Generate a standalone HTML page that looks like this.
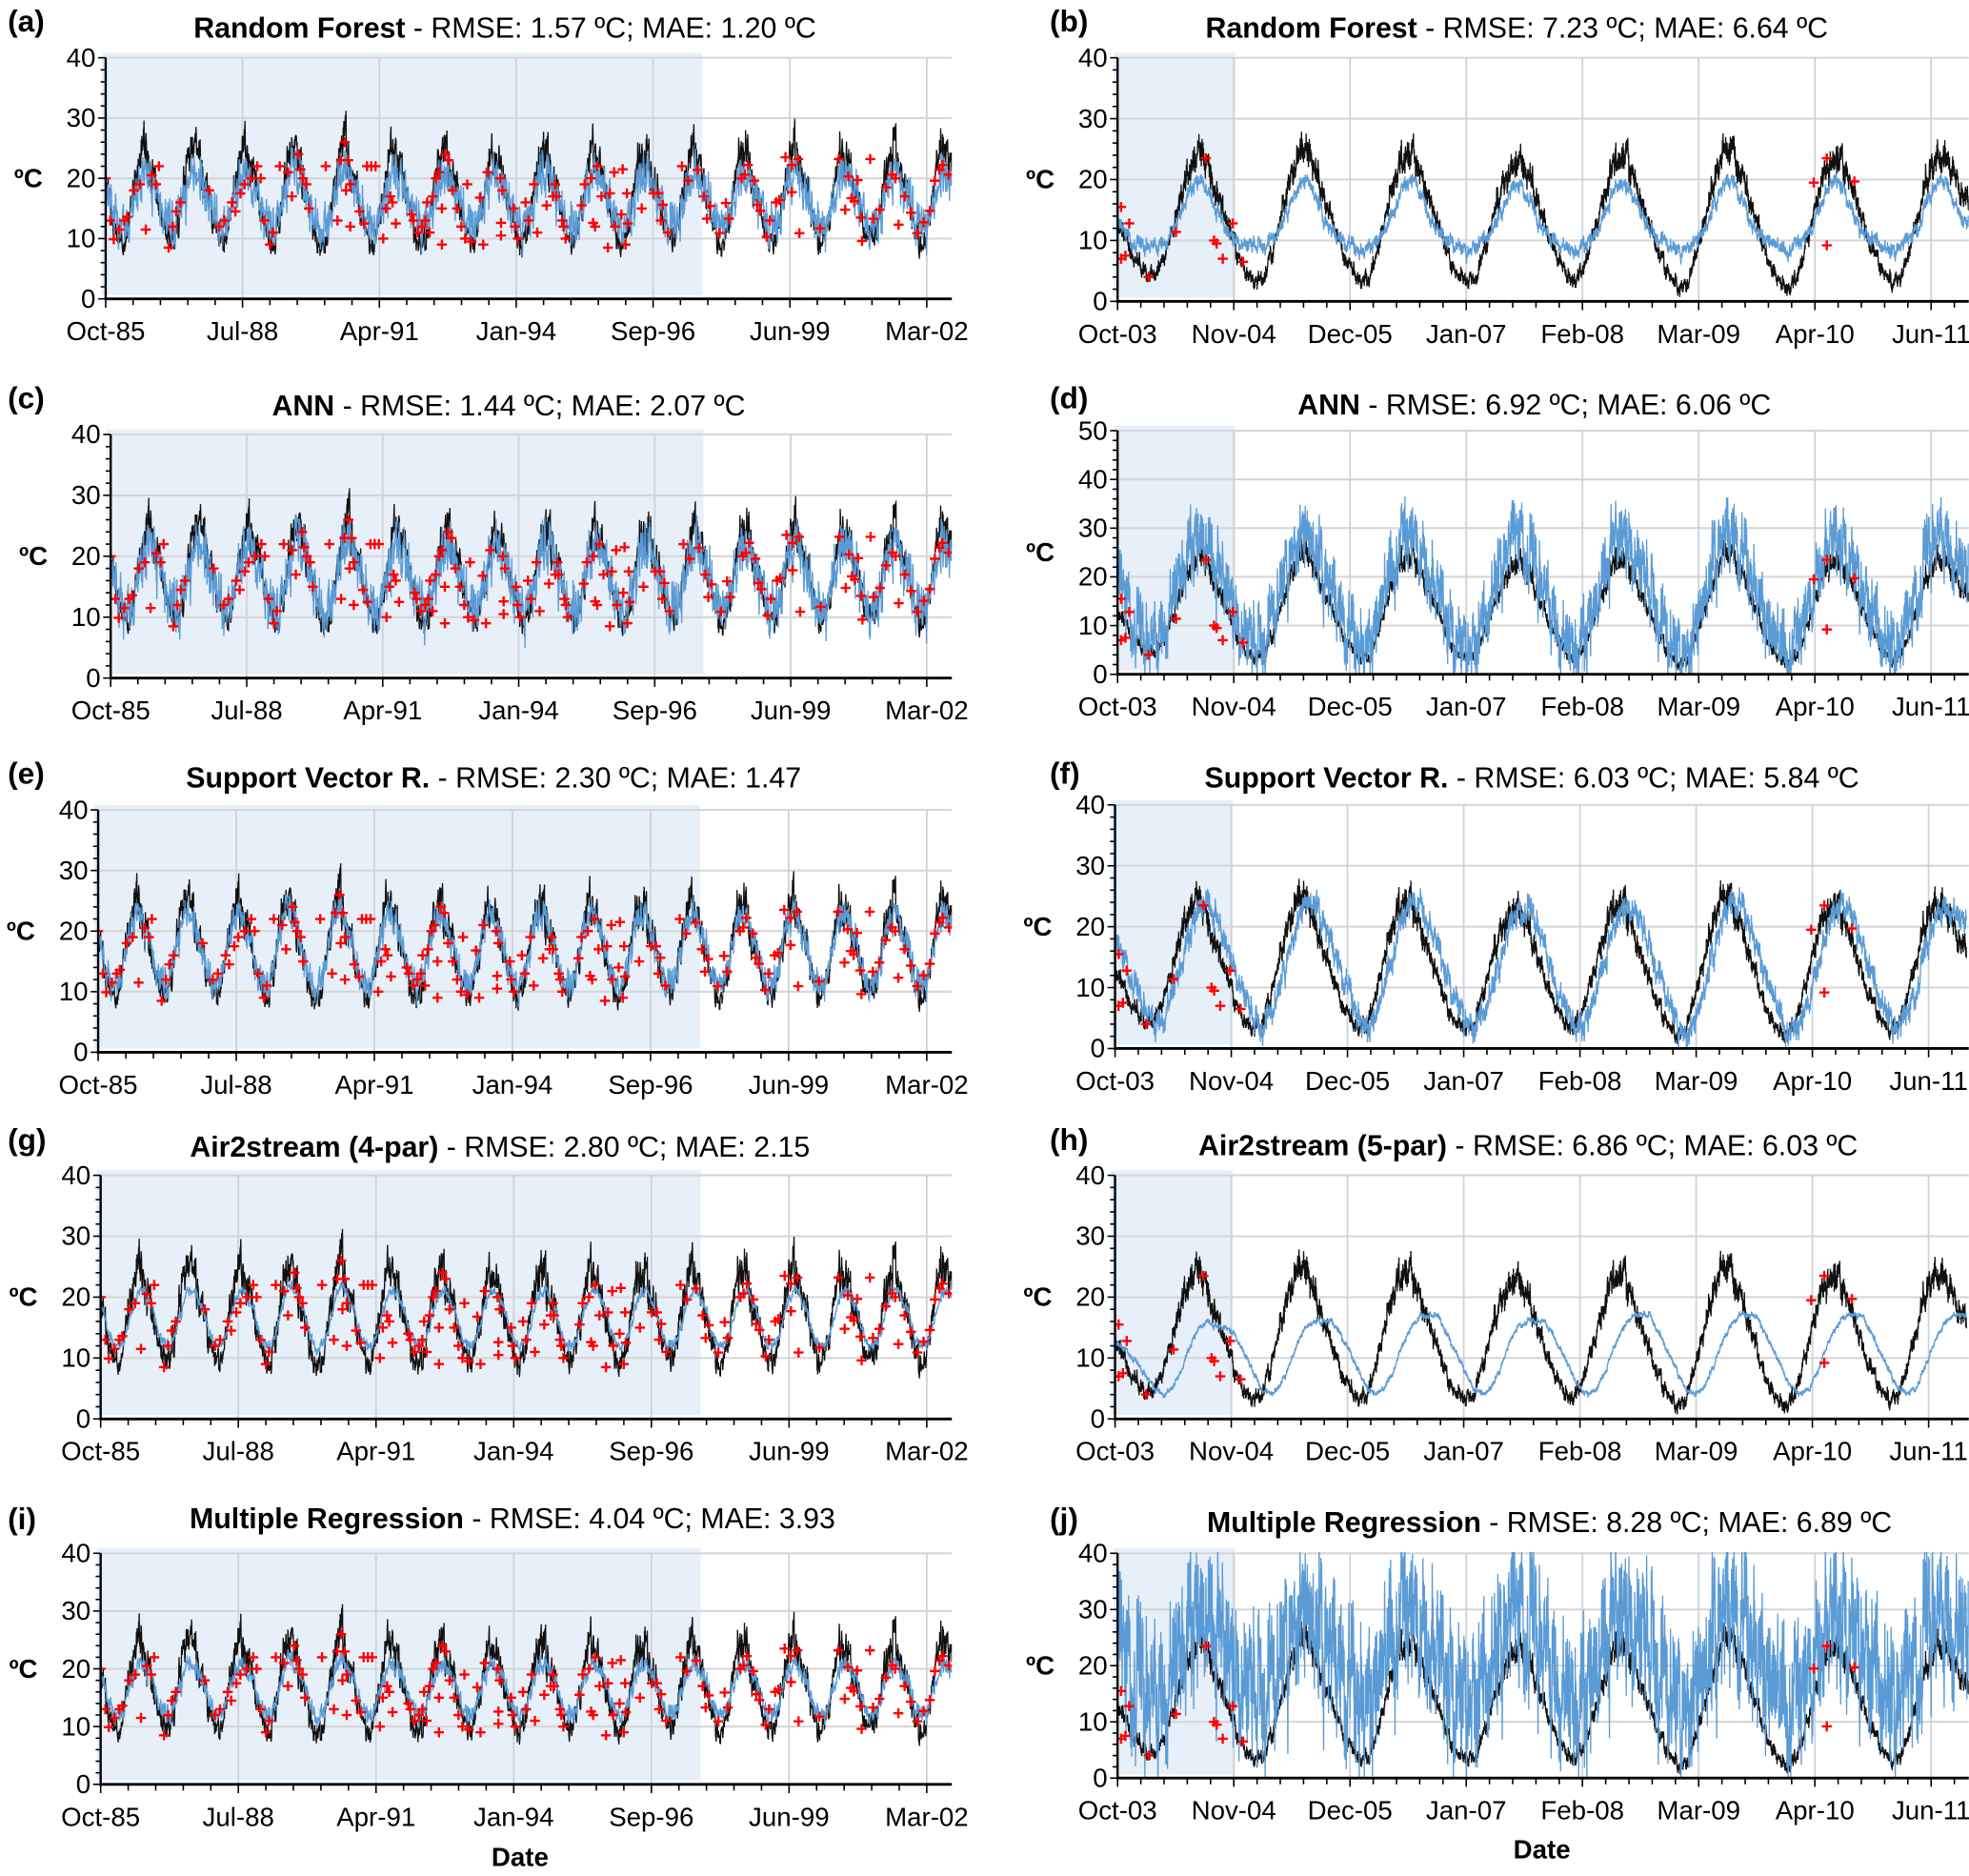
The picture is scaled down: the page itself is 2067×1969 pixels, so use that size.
<!DOCTYPE html>
<html><head><meta charset="utf-8">
<style>
html,body{margin:0;padding:0;background:#fff;}
svg{display:block;font-family:"Liberation Sans",Arial,sans-serif;}
</style></head>
<body>
<svg id="fig" width="2067" height="1969" viewBox="0 0 1568 1494" xmlns="http://www.w3.org/2000/svg"></svg>
<script>
// ---------- DATA ----------
const obsL = [
18,14,11,9,9,12,17,21,24,25,22,19, 17,13,11,10,10,13,18,22,25,26,23,19,
18,14,12,9,10,12,16,21,24,25,23,20, 18,14,11,9,9,12,17,22,25,26,22,19,
17,13,10,8,9,11,16,21,25,27,23,19, 18,14,11,9,9,12,17,21,24,25,22,19,
17,13,10,9,9,12,17,21,24,25,22,19, 18,14,11,10,10,12,16,20,23,24,22,19,
17,13,11,9,9,12,17,21,24,25,22,19, 18,14,11,9,10,12,16,21,24,25,23,19,
17,13,11,9,9,12,17,21,23,24,22,19, 18,14,12,10,10,13,17,21,24,25,22,19,
17,13,11,9,9,12,17,21,24,25,22,18, 17,13,11,9,9,12,16,21,24,25,23,19,
18,14,11,9,10,12,17,21,24,24,22,19, 17,13,11,10,10,13,17,21,24,25,22,19,
18,14,11,9,9,12,17,22,24,25,22,20];
const predA = [
17,15,13,12,12,13,15,18,20,21,20,18, 17,15,13,12,12,14,16,18,21,21,20,18,
17,15,13,12,12,13,15,18,20,21,20,18, 17,15,13,12,12,13,16,19,21,22,20,18,
17,14,13,11,12,13,15,18,21,22,20,18, 17,15,13,12,12,13,15,18,20,21,20,18,
17,15,13,12,12,13,15,18,20,21,20,18, 17,15,13,12,12,13,15,18,20,21,20,18,
17,15,13,12,12,13,15,18,20,21,20,18, 17,15,13,12,12,13,15,18,20,21,20,18,
17,15,13,12,12,13,15,18,20,21,20,18, 17,15,13,12,12,13,15,18,20,21,20,18,
17,15,13,12,12,13,15,18,20,21,20,18, 17,15,13,12,12,13,15,18,20,21,20,18,
17,15,13,12,12,13,15,18,20,21,20,18, 17,15,13,12,12,13,15,18,20,21,20,18,
17,15,13,12,12,13,15,18,20,21,20,18];
const predC = [
17,14,12,11,11,13,16,19,21,22,21,18, 17,14,12,11,11,13,16,19,22,22,21,18,
17,14,12,11,11,13,16,19,21,22,21,18, 17,14,12,11,11,13,16,19,22,23,21,18,
17,14,12,10,11,13,16,19,22,23,21,18, 17,14,12,11,11,13,16,19,21,22,21,18,
17,14,12,11,11,13,16,19,21,22,21,18, 17,14,12,11,11,13,16,19,21,22,21,18,
17,14,12,11,11,13,16,19,21,22,21,18, 17,14,12,11,11,13,16,19,21,22,21,18,
17,14,12,11,11,13,16,19,21,22,21,18, 17,14,12,11,11,13,16,19,21,22,21,18,
17,14,12,11,11,13,16,19,21,22,21,18, 17,14,12,11,11,13,16,19,21,22,21,18,
17,14,12,11,11,13,16,19,21,22,21,18, 17,14,12,11,11,13,16,19,21,22,21,18,
17,14,12,11,11,13,16,19,21,22,21,18];
const predE = [
18,14,12,11,11,13,16,20,22,23,22,19, 18,14,12,11,11,13,17,20,23,23,22,19,
18,14,12,11,11,13,16,20,22,23,22,19, 18,14,12,11,11,13,17,21,23,24,22,19,
17,14,12,10,11,13,16,20,23,24,22,19, 18,14,12,11,11,13,16,20,22,23,22,19,
18,14,12,11,11,13,16,20,22,23,22,19, 18,14,12,11,11,13,16,20,22,23,22,19,
18,14,12,11,11,13,16,20,22,23,22,19, 18,14,12,11,11,13,16,20,22,23,22,19,
18,14,12,11,11,13,16,20,22,23,22,19, 18,14,12,11,11,13,16,20,22,23,22,19,
18,14,12,11,11,13,16,20,22,23,22,19, 18,14,12,11,11,13,16,20,22,23,22,19,
18,14,12,11,11,13,16,20,22,23,22,19, 18,14,12,11,11,13,16,20,22,23,22,19,
18,14,12,11,11,13,16,20,22,23,22,19];
const predG = [
18,15,13,12,12,13,15,18,20,21,21,19, 18,15,13,12,12,13,16,18,21,21,21,19,
18,15,13,12,12,13,15,18,20,21,21,19, 18,15,13,12,12,13,16,19,21,22,21,19,
18,15,13,11,12,13,15,18,21,22,21,19, 18,15,13,12,12,13,15,18,20,21,21,19,
18,15,13,12,12,13,15,18,20,21,21,19, 18,15,13,12,12,13,15,18,20,21,21,19,
18,15,13,12,12,13,15,18,20,21,21,19, 18,15,13,12,12,13,15,18,20,21,21,19,
18,15,13,12,12,13,15,18,20,21,21,19, 18,15,13,12,12,13,15,18,20,21,21,19,
18,15,13,12,12,13,15,18,20,21,21,19, 18,15,13,12,12,13,15,18,20,21,21,19,
18,15,13,12,12,13,15,18,20,21,21,19, 18,15,13,12,12,13,15,18,20,21,21,19,
18,15,13,12,12,13,15,18,20,21,21,19];
const predI = [
18,15,13,12,12,13,16,18,20,21,20,19, 18,15,13,12,12,13,16,18,21,21,20,19,
18,15,13,12,12,13,16,18,20,21,20,19, 18,15,13,12,12,13,16,19,21,22,20,19,
18,15,13,11,12,13,16,18,21,22,20,19, 18,15,13,12,12,13,16,18,20,21,20,19,
18,15,13,12,12,13,16,18,20,21,20,19, 18,15,13,12,12,13,16,18,20,21,20,19,
18,15,13,12,12,13,16,18,20,21,20,19, 18,15,13,12,12,13,16,18,20,21,20,19,
18,15,13,12,12,13,16,18,20,21,20,19, 18,15,13,12,12,13,16,18,20,21,20,19,
18,15,13,12,12,13,16,18,20,21,20,19, 18,15,13,12,12,13,16,18,20,21,20,19,
18,15,13,12,12,13,16,18,20,21,20,19, 18,15,13,12,12,13,16,18,20,21,20,19,
18,15,13,12,12,13,16,18,20,21,20,19];
const obsR = [
12,8,6,4,5,8,13,19,23,24,21,16, 13,8,5,3,4,8,14,20,24,25,21,16,
12,8,5,3,4,9,15,21,24,24,20,15, 12,7,4,3,4,8,14,19,22,23,21,16,
12,8,5,3,5,9,14,20,23,24,20,15, 11,7,4,2,3,8,14,20,24,25,21,16,
12,7,4,2,3,7,13,19,22,24,21,16, 12,8,5,3,4,8,14,20,23,24,21,17];
const predB = [
12,10,9,9,9,10,12,16,19,20,17,14, 11,10,9,9,9,10,12,16,19,20,17,13,
11,10,9,8,9,10,12,16,19,20,17,13, 11,10,9,8,9,10,12,15,18,19,17,13,
11,10,9,8,9,10,12,16,19,19,17,13, 11,10,9,8,9,10,12,16,19,20,17,13,
11,10,9,8,9,10,12,16,19,20,17,13, 11,10,9,8,9,10,12,16,19,20,17,13];
const predD = [
17,12,8,6,7,11,17,23,27,28,25,20, 17,11,7,5,6,11,17,24,28,29,25,20,
16,11,7,5,6,11,18,24,28,28,24,19, 16,10,6,5,6,10,17,23,27,28,25,20,
16,11,7,5,7,11,17,24,28,28,24,19, 15,10,6,4,5,10,17,24,28,29,25,20,
16,10,6,4,5,10,16,23,27,28,25,20, 16,11,7,5,6,10,17,24,28,28,25,21];
const predF = [
16,13,9,6,4,5,9,14,19,23,24,21, 17,13,9,5,3,5,9,15,20,24,24,21,
17,13,9,5,3,5,10,16,21,24,24,20, 17,12,8,5,3,5,9,14,19,22,23,21,
17,12,8,5,3,5,10,15,20,23,23,20, 16,12,8,4,2,4,9,15,20,24,24,21,
17,12,8,4,2,4,8,14,19,23,24,21, 17,12,8,5,3,5,9,15,20,23,23,21];
const predH = [
12,11,9,7,5,4,5,8,12,15,16,15, 15,14,11,8,5,4,5,8,12,15,16,16,
16,14,11,8,5,4,5,8,12,15,17,17, 17,14,11,8,5,4,5,8,12,15,16,16,
16,14,11,8,5,4,5,8,12,15,17,17, 17,14,11,8,5,4,5,8,12,15,17,17,
17,14,11,8,5,4,5,8,12,15,17,17, 17,14,11,8,5,4,5,8,12,15,17,17];
const predJ = [
22,18,16,14,14,16,20,25,28,29,27,25, 22,18,15,13,14,16,20,26,29,30,27,24,
22,18,15,13,14,16,21,26,29,29,26,23, 22,17,14,13,14,16,20,25,28,28,27,24,
22,18,15,13,14,17,21,26,28,29,26,23, 21,17,14,12,13,16,20,26,29,30,27,24,
22,17,14,12,13,15,19,25,28,29,27,24, 22,18,15,13,14,16,20,26,28,29,27,25];
const noiseObsL = 5, noiseObsR = 4;
const spikeL = [5, 6, 3.5, 1.2, 2.2];
const spikeR = [2, 11, 3.5, 0.8, 19];
const jitter = [0.31,-0.82,0.94,-0.18,0.55,-0.61,0.12,0.77,-0.93,0.41,-0.27,0.68,-0.49,0.05,0.88,-0.72,0.23,-0.36,0.97,-0.55,0.16,-0.9,0.62,-0.08,0.45,-0.67,0.83,-0.3,0.2,-0.99,0.71,-0.14,0.37,-0.58,0.9,-0.42,0.09,0.6,-0.77,0.28,-0.21];
const mkDayL = [0,34,59,99,136,157,207,250,336,367,389,293,460,491,515,546,756,830,867,923,948,985,1015,1062,1108,1133,1160,1200,1222,1272,1333,1361,1407,1423,1441,1466,1485,1608,1694,1719,1747,1772,1756,1787,1787,1855,1889,1910,1941,1972,2028,2049,2080,2096,2120,2235,2250,2281,2312,2336,2349,2367,2389,2414,2435,2457,2457,2481,2506,2534,2568,2599,2627,2642,2673,2735,2759,2790,2883,2889,2889,2898,2981,2991,3012,3068,3090,3130,3154,3222,3269,3293,3284,3336,3346,3361,3478,3500,3546,3593,3562,3577,3623,3670,3685,3716,3778,3722,3769,3799,3809,3815,3917,4003,4040,4056,4071,4108,4211,4257,4326,4372,4394,4417,4486,4532,4555,4647,4670,4693,4739,4761,4784,4830,4853,4899,4922,4968,5014,5060,5014,5069,5220,5358,5404,5427,5450,5472,5495,5518,5527,5587,5610,5656,5702,5748,5771,5794,5839,5885,5931,5977,6022,6059,6092,6115,6161];
const mkValL = [20,13,9.9,11.5,13,13.6,18,19,20.5,19,22,11.5,8.5,12,14.5,16,18,12,13,16,14.5,17.5,19,20,22,20,13,9,11,22,21,17,24,21.5,20,19,15,22,13,23,26,23,18,19,12,14.5,12.5,22,22,22,10,15,17,16,12.5,14,13,11,12,13,16,11,17,20,21,15,9,24,23,18,15,12,10,19,9.5,16.8,9,21,20,12.6,10.5,18,15,12,10,16,13,19,11,15.5,17,17,19,13,12,10,15.5,19,20,22,12.6,12,17,8.5,17.5,21,21.5,12,14,9,17.5,12.5,15,17.5,17.5,13,15.6,11,22,19.6,21.4,17,13.3,15.4,10.9,15.9,13.3,20,20.6,22.2,19.6,15.6,14.6,10.3,13,16,16.4,23.5,22.2,23.2,17.7,10.9,11.7,23.2,14.8,20.3,16.7,16.2,19.7,13.5,9.6,23.2,13.3,14.8,18.5,20.6,20,12.3,17,14.3,10.9,12.7,14.6,19.6,21.4,22.2,20.6];
const mkDayR = [12,12,27,40,107,201,304,332,341,362,396,432,2396,2441,2441,2536];
const mkValR = [15.5,7,7.5,12.8,4,11.4,23.5,10,9.5,7,12.8,6.5,19.5,23.5,9.2,19.7];
const tickDaysL = [0,1000,2000,3000,4000,5000,6000];
const tickLabelsL = ["Oct-85","Jul-88","Apr-91","Jan-94","Sep-96","Jun-99","Mar-02"];
const tickDaysR = [0,400,800,1200,1600,2000,2400,2800];
const tickLabelsR = ["Oct-03","Nov-04","Dec-05","Jan-07","Feb-08","Mar-09","Apr-10","Jun-11"];

// ---------- LAYOUT ----------
const panels = [
 {id:'a',side:'L',x0:84,x1:758,yT:46,yB:238,yMax:40,pred:predA,sp:spikeL[0],lx:6,ly:25,tx:402,ty:30,tb:'Random Forest',tn:' - RMSE: 1.57 ºC; MAE: 1.20 ºC'},
 {id:'c',side:'L',x0:88,x1:758,yT:346,yB:540,yMax:40,pred:predC,sp:spikeL[1],lx:6,ly:325,tx:405,ty:331,tb:'ANN',tn:' - RMSE: 1.44 ºC; MAE: 2.07 ºC'},
 {id:'e',side:'L',x0:78,x1:758,yT:645,yB:838,yMax:40,pred:predE,sp:spikeL[2],lx:6,ly:624,tx:393,ty:627,tb:'Support Vector R.',tn:' - RMSE: 2.30 ºC; MAE: 1.47'},
 {id:'g',side:'L',x0:80,x1:758,yT:936,yB:1130,yMax:40,pred:predG,sp:spikeL[3],lx:6,ly:916,tx:398,ty:921,tb:'Air2stream (4-par)',tn:' - RMSE: 2.80 ºC; MAE: 2.15'},
 {id:'i',side:'L',x0:80,x1:758,yT:1237,yB:1421,yMax:40,pred:predI,sp:spikeL[4],lx:6,ly:1218,tx:408,ty:1217,tb:'Multiple Regression',tn:' - RMSE: 4.04 ºC; MAE: 3.93'},
 {id:'b',side:'R',x0:890,x1:1568,yT:46,yB:240,yMax:40,pred:predB,sp:spikeR[0],lx:836,ly:25,tx:1208,ty:30,tb:'Random Forest',tn:' - RMSE: 7.23 ºC; MAE: 6.64 ºC'},
 {id:'d',side:'R',x0:890,x1:1568,yT:343,yB:537,yMax:50,pred:predD,sp:spikeR[1],lx:836,ly:325,tx:1222,ty:330,tb:'ANN',tn:' - RMSE: 6.92 ºC; MAE: 6.06 ºC'},
 {id:'f',side:'R',x0:888,x1:1568,yT:641,yB:835,yMax:40,pred:predF,sp:spikeR[2],lx:836,ly:624,tx:1220,ty:627,tb:'Support Vector R.',tn:' - RMSE: 6.03 ºC; MAE: 5.84 ºC'},
 {id:'h',side:'R',x0:888,x1:1568,yT:936,yB:1130,yMax:40,pred:predH,sp:spikeR[3],lx:836,ly:916,tx:1217,ty:920,tb:'Air2stream (5-par)',tn:' - RMSE: 6.86 ºC; MAE: 6.03 ºC'},
 {id:'j',side:'R',x0:890,x1:1568,yT:1237,yB:1416,yMax:40,pred:predJ,sp:spikeR[4],lx:836,ly:1218,tx:1234,ty:1220,tb:'Multiple Regression',tn:' - RMSE: 8.28 ºC; MAE: 6.89 ºC'}
];
const NS='http://www.w3.org/2000/svg';
const svg=document.getElementById('fig');
function mk(tag,attrs,parent){const e=document.createElementNS(NS,tag);for(const k in attrs)e.setAttribute(k,attrs[k]);(parent||svg).appendChild(e);return e;}
function monthly(arr,d){const m=(d-15)/30.44;const i=Math.max(0,Math.min(arr.length-1,Math.floor(m)));const j=Math.min(arr.length-1,i+1);const f=Math.max(0,Math.min(1,m-i));return arr[i]*(1-f)+arr[j]*f;}
function jit(d,o){const n=jitter.length;
  return jitter[(d+o)%n]*0.4+jitter[(Math.floor(d/3)*5+o)%n]*0.35+jitter[(Math.floor(d/11)*3+o*2)%n]*0.35;}

panels.forEach(p=>{
  const L=p.side==='L';
  const dMax=L?6183:2930;
  const x1Scale=L?(738-p.x0)/6000:(1538-890)/2800;
  const sx=d=>p.x0+d*x1Scale;
  const sy=v=>p.yB-(v/p.yMax)*(p.yB-p.yT);
  const g=mk('g',{});
  
  
  const shEnd=L?4358:405;
  const sh=mk('rect',{x:p.x0-3,y:p.yT-4,width:sx(shEnd)-p.x0+3,height:p.yB-p.yT+1,fill:'#e7eff9'},g);
  
  
  for(let v=10;v<=p.yMax;v+=10){
    const l=mk('line',{x1:p.x0,x2:p.x1,y1:sy(v),y2:sy(v),stroke:'#d6d6d6','stroke-width':1.6},g);
    
    
  }
  const td=L?tickDaysL:tickDaysR, tl=L?tickLabelsL:tickLabelsR;
  td.forEach((d,i)=>{
    if(i>0){const l=mk('line',{x1:sx(d),x2:sx(d),y1:p.yT,y2:p.yB,stroke:'#cfd3d8','stroke-width':1.4},g);
    
    }
  });
  const cp=mk('clipPath',{id:'clip'+p.id},g);
  mk('rect',{x:p.x0,y:p.yT-1,width:p.x1-p.x0,height:p.yB-p.yT+1},cp);
  const sg=mk('g',{'clip-path':'url(#clip'+p.id+')'},g);
  const obs=L?obsL:obsR, nAmp=L?noiseObsL:noiseObsR, step=L?2:1;
  let ptsO=[],ptsP=[];
  for(let d=0;d<=dMax;d+=step){
    const season=monthly(obs,d);
    const amp=nAmp*(0.5+0.5*Math.max(0,(season-8)/17));
    const vo=Math.max(0.3,season+amp*jit(d,0));
    ptsO.push(sx(d).toFixed(1)+','+sy(vo).toFixed(1));
    const vp=Math.max(0,monthly(p.pred,d)+p.sp*jit(d,17));
    ptsP.push(sx(d).toFixed(1)+','+sy(vp).toFixed(1));
  }
  const lo=mk('polyline',{points:ptsO.join(' '),fill:'none',stroke:'#111','stroke-width':1},sg);
  
  
  const lp=mk('polyline',{points:ptsP.join(' '),fill:'none',stroke:'#5b9bd5','stroke-width':1},sg);
  
  
  const md=L?mkDayL:mkDayR, mv=L?mkValL:mkValR;
  md.forEach((d,i)=>{
    if(d>dMax) return;
    const x=sx(d),y=sy(mv[i]);
    const m=mk('path',{d:`M${x-4},${y}H${x+4}M${x},${y-4}V${y+4}`,stroke:'#ff0000','stroke-width':1.8,fill:'none'},sg);
    
    
  });
  const ya=mk('line',{x1:p.x0,x2:p.x0,y1:p.yT,y2:p.yB+1,stroke:'#000','stroke-width':1.8},g);
  
  
  const xa=mk('line',{x1:p.x0-1,x2:p.x1,y1:p.yB,y2:p.yB,stroke:'#000','stroke-width':2.2},g);
  
  
  for(let v=0;v<=p.yMax;v+=2){
    mk('line',{x1:p.x0-(v%10===0?6:4),x2:p.x0,y1:sy(v),y2:sy(v),stroke:'#000','stroke-width':1.2},g);
  }
  for(let v=0;v<=p.yMax;v+=10){
    const t=mk('text',{x:p.x0-8,y:sy(v)+7,'text-anchor':'end','font-size':21,fill:'#000'},g);
    t.textContent=v;
    
    
  }
  const yl=mk('text',{x:p.x0-73,y:(p.yT+p.yB)/2+7,'font-size':21,'font-weight':'bold',fill:'#000'},g);
  yl.textContent='ºC';
  
  
  const minor=L?200:80;
  for(let d=0;d<=dMax;d+=minor){
    const major=td.includes(d);
    mk('line',{x1:sx(d),x2:sx(d),y1:p.yB,y2:p.yB+(major?7:5),stroke:'#000','stroke-width':1.2},g);
  }
  td.forEach((d,i)=>{
    const t=mk('text',{x:sx(d),y:p.yB+33,'text-anchor':'middle','font-size':21,fill:'#000'},g);
    t.textContent=tl[i];
    
    
  });
  const lt=mk('text',{x:p.lx,y:p.ly,'font-size':24,'font-weight':'bold',fill:'#000'},g);
  lt.textContent='('+p.id+')';
  
  
  const tt=mk('text',{x:p.tx,y:p.ty,'text-anchor':'middle','font-size':23,fill:'#000'},g);
  
  
  const b=mk('tspan',{'font-weight':'bold'},tt);b.textContent=p.tb;
  const n=mk('tspan',{},tt);n.textContent=p.tn;
});
const dl=mk('text',{x:414,y:1486,'text-anchor':'middle','font-size':21,'font-weight':'bold'});
dl.textContent='Date';


const dr=mk('text',{x:1228,y:1480,'text-anchor':'middle','font-size':21,'font-weight':'bold'});
dr.textContent='Date';


</script>
</body></html>
